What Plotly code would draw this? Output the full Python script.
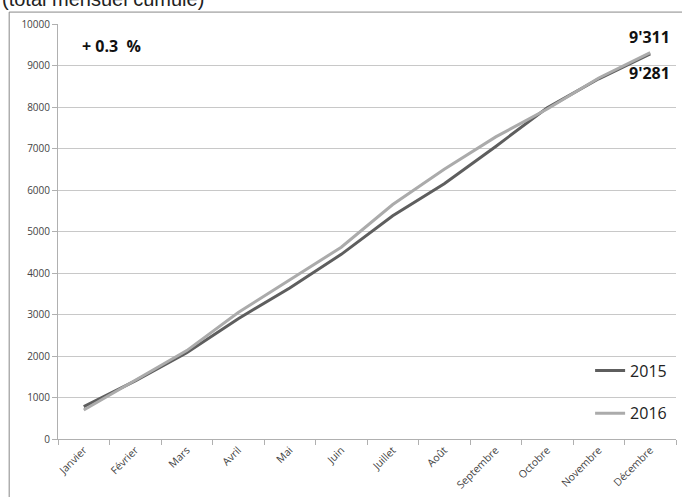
import plotly.graph_objects as go

months = ["Janvier", "Février", "Mars", "Avril", "Mai", "Juin", "Juillet",
          "Août", "Septembre", "Octobre", "Novembre", "Décembre"]
v2015 = [780, 1400, 2080, 2900, 3640, 4450, 5380, 6150, 7050, 7980, 8680, 9281]
v2016 = [700, 1420, 2130, 3050, 3830, 4620, 5650, 6500, 7280, 7950, 8700, 9311]
yticks = [0, 1000, 2000, 3000, 4000, 5000, 6000, 7000, 8000, 9000, 10000]
ytext = [str(v) for v in yticks]

fig = go.Figure()
fig.add_trace(go.Scatter(x=months, y=v2015, mode="lines", name="2015",
                         line=dict(color="#5e5e5e", width=3), legend="legend"))
fig.add_trace(go.Scatter(x=months, y=v2016, mode="lines", name="2016",
                         line=dict(color="#ababab", width=3), legend="legend2"))

font_main = "Liberation Sans, Arial, sans-serif"
font_cal = "Open Sans, sans-serif"

fig.update_layout(
    width=682, height=497,
    margin=dict(l=58, r=6, t=24, b=56),
    paper_bgcolor="white", plot_bgcolor="white",
    font=dict(family=font_cal, color="#444"),
    xaxis=dict(type="category", range=[-0.5, 11.5], tickangle=-45,
               tickson="boundaries", ticks="outside", ticklen=5, tickcolor="#b0b0b0",
               showline=True, linecolor="#b0b0b0", linewidth=1, showgrid=False,
               tickfont=dict(size=10.5, color="#444", family=font_cal)),
    yaxis=dict(range=[0, 10000], tickvals=yticks, ticktext=ytext, ticks="outside", ticklen=5,
               tickcolor="#b0b0b0", showline=True, linecolor="#b0b0b0", linewidth=1,
               gridcolor="#c8c8c8", gridwidth=1, zeroline=False,
               tickfont=dict(size=10, color="#444", family=font_cal)),
    legend=dict(x=0.861, y=0.165, xanchor="left", yanchor="middle",
                bgcolor="rgba(0,0,0,0)", font=dict(size=16, color="#222", family=font_cal)),
    legend2=dict(x=0.861, y=0.062, xanchor="left", yanchor="middle",
                 bgcolor="rgba(0,0,0,0)", font=dict(size=16, color="#222", family=font_cal)),
    showlegend=True,
)

fig.add_annotation(text="(total mensuel cumulé)", xref="paper", yref="paper",
                   x=-0.094, y=1.0287, xanchor="left", yanchor="bottom", showarrow=False,
                   font=dict(size=20, color="#222", family=font_main))
fig.add_annotation(text="<b>+ 0.3  %</b>", xref="paper", yref="paper",
                   x=0.036, y=0.947, xanchor="left", yanchor="middle", showarrow=False,
                   font=dict(size=16, color="#111", family=font_cal))
fig.add_annotation(text="<b>9'311</b>", xref="paper", yref="paper",
                   x=0.9935, y=0.969, xanchor="right", yanchor="middle", showarrow=False,
                   font=dict(size=16, color="#111", family=font_cal))
fig.add_annotation(text="<b>9'281</b>", xref="paper", yref="paper",
                   x=0.9935, y=0.883, xanchor="right", yanchor="middle", showarrow=False,
                   font=dict(size=16, color="#111", family=font_cal))

# outer chart frame
fig.add_shape(type="rect", xref="paper", yref="paper",
              x0=-0.079, x1=1.02, y0=-0.2, y1=1.0287,
              line=dict(color="#888", width=1), fillcolor="rgba(0,0,0,0)", layer="below")

fig.write_html("out.html", config={"displayModeBar": False},
               post_script="document.body.style.margin='0';document.body.style.overflow='hidden';")
